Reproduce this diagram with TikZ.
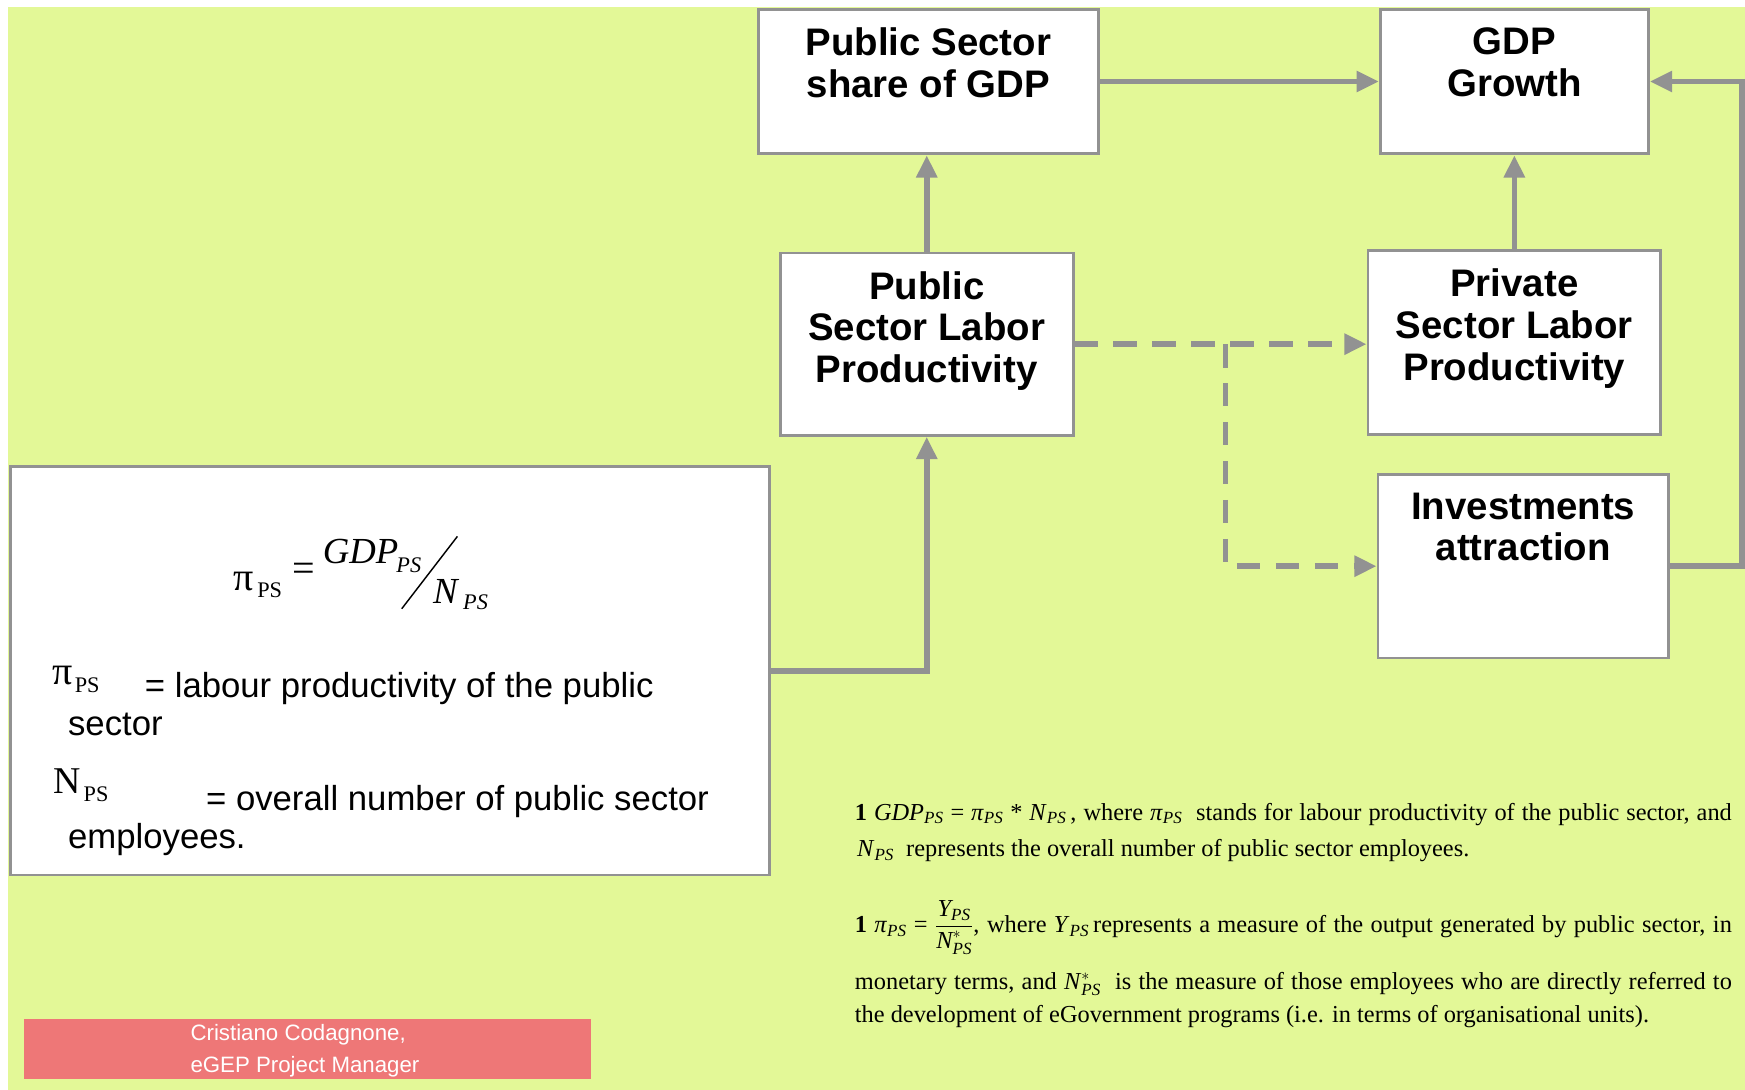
\documentclass[tikz,border=0pt]{standalone}
\usepackage{amsmath}
\usepackage{fontspec}
\setmainfont{Liberation Serif}
\setsansfont{Liberation Sans}
\usetikzlibrary{arrows.meta}
\definecolor{bgc}{RGB}{227,248,151}
\definecolor{lnc}{RGB}{146,146,146}
\definecolor{pinkc}{RGB}{238,119,119}
\newcommand{\sPS}{$_{\textit{PS}}$}
\newcommand{\Nst}{\textit{N}$^{*}_{\textit{PS}}$}
\begin{document}
\begin{tikzpicture}[x=1pt,y=-1pt,
  box/.style={draw=lnc, line width=2.5pt, fill=white, inner sep=0pt, anchor=north west},
  btext/.style={font=\sffamily\bfseries\fontsize{34.5}{37.5}\selectfont, align=center, anchor=north, inner sep=0pt},
  conn/.style={draw=lnc, line width=5pt, -{Triangle[length=20pt,width=18pt]}},
  dconn/.style={conn, dash pattern=on 21pt off 14pt},
  fm/.style={font=\fontsize{33}{36}\selectfont, inner sep=0pt, anchor=base west},
  fms/.style={font=\fontsize{20}{22}\selectfont, inner sep=0pt, anchor=base west},
  lg/.style={font=\sffamily\fontsize{31.2}{34}\selectfont, inner sep=0pt, anchor=base west},
  ft/.style={font=\fontsize{21.9}{25}\selectfont, inner sep=0pt, anchor=base west},
  pk/.style={font=\sffamily\fontsize{20}{24}\selectfont, text=white, inner sep=0pt, anchor=base west},
]
\useasboundingbox (0,0) rectangle (1568,979);
\fill[white] (0,0) rectangle (1568,979);
\fill[bgc] (7,6) rectangle (1568,979);

% boxes
\node[box, minimum width=306pt, minimum height=130pt] (pss) at (680,7) {};
\node[btext] (psst) at ([yshift=-17.6pt]pss.north) {Public Sector\\share of GDP};
\node[box, minimum width=241pt, minimum height=130pt] (gdp) at (1239,7) {};
\node[btext] (gdpt) at ([yshift=-17.6pt]gdp.north) {GDP\\Growth};
\node[box, minimum width=263pt, minimum height=164pt] (pslp) at (700,226) {};
\node[btext] (pslpt) at ([yshift=-17.6pt]pslp.north) {Public\\Sector Labor\\Productivity};
\node[box, minimum width=263pt, minimum height=165pt] (prlp) at (1228,224) {};
\node[btext] (prlpt) at ([yshift=-17.6pt]prlp.north) {Private\\Sector Labor\\Productivity};
\node[box, minimum width=261pt, minimum height=165pt] (inv) at (1237,425) {};
\node[btext] (invt) at ([yshift=-17.6pt]inv.north) {Investments\\attraction};
\node[box, minimum width=682pt, minimum height=367pt] (fbox) at (8,418) {};

% formula
\node[fm, font=\fontsize{36}{38}\selectfont] (fpi) at (210,531) {π};
\node[fms] (fpis) at (231,537) {PS};
\node[font=\fontsize{36}{38}\selectfont, inner sep=0pt] (feq) at (273,514) {=};
\node[fm, font=\fontsize{33}{36}\selectfont\itshape] (fgdp) at (290,506) {GDP};
\node[fms, font=\fontsize{20}{22}\selectfont\itshape] (fgdps) at (356,514) {PS};
\draw[line width=1.3pt] (361,547) -- (411,482);
\node[fm, font=\fontsize{33}{36}\selectfont\itshape] (fn) at (389,542) {N};
\node[fms, font=\fontsize{20}{22}\selectfont\itshape] (fns) at (416,548) {PS};

% legend
\node[fm, font=\fontsize{36}{38}\selectfont] (lpi) at (47,615) {π};
\node[fms] (lpis) at (67,622) {PS};
\node[lg] (l1) at (130,627) {= labour productivity of the public};
\node[lg] (l2) at (61,661) {sector};
\node[fm, font=\fontsize{34}{38}\selectfont] (ln) at (48,713) {N};
\node[fms] (lns) at (75,720) {PS};
\node[lg] (l3) at (185,728) {= overall number of public sector};
\node[lg] (l4) at (61,762) {employees.};

% footnotes
\node[ft] (ft1) at (768,737) {\hbox to 788pt{\textbf{1} \textit{GDP}\sPS\ = \textit{π}\sPS\ * \textit{N}\sPS\,, where \textit{π}\sPS\ \ stands for labour productivity of the public sector, and}};
\node[ft] (ft2) at (770,770) {\textit{N}\sPS\ \ represents the overall number of public sector employees.};
\node[ft] (ft3) at (768,838) {\hbox to 788pt{\textbf{1} \textit{π}\sPS\ = $\dfrac{\textit{Y}_{\textit{PS}}}{\textit{N}^{*}_{\textit{PS}}}$, where \textit{Y}\sPS\,represents a measure of the output generated by public sector, in}};
\node[ft] (ft4) at (768,889) {\hbox to 788pt{monetary terms, and \Nst\ \ is the measure of those employees who are directly referred to}};
\node[ft] (ft5) at (768,919) {the development of eGovernment programs (i.e. in terms of organisational units).};

% pink box
\node[fill=pinkc, inner sep=0pt, anchor=north west, minimum width=510pt, minimum height=54pt] (pkb) at (21,915) {};
\node[pk] (pk1) at (171,935) {Cristiano Codagnone,};
\node[pk] (pk2) at (171,964) {eGEP Project Manager};

% connectors
\draw[conn] (pslp.north) -- (pslp.north |- pss.south);
\draw[conn] (pss.east) -- (gdp.west);
\draw[conn] (prlp.north -| gdp.south) -- (gdp.south);
\draw[conn] (inv.east) -- ++(65,0) |- (gdp.east);
\draw[conn] (fbox.east) -| (pslp.south);
\coordinate (br) at (1101,0);
\draw[dconn] (pslp.east) -- (pslp.east -| prlp.west);
\draw[dconn] (br |- pslp.east) -- (br |- inv.west) -- (inv.west);
\end{tikzpicture}
\end{document}
